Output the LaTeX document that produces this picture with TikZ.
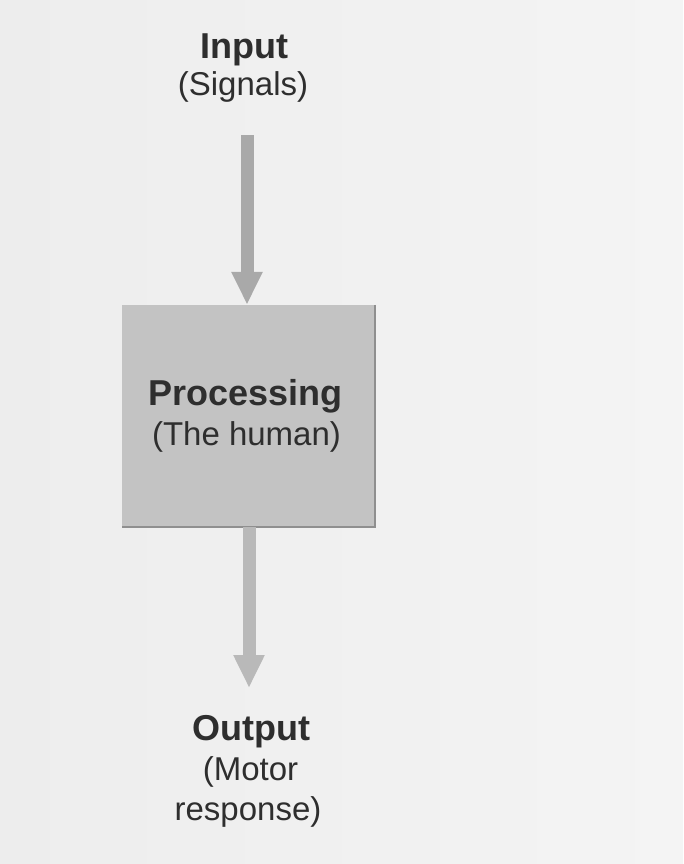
\documentclass[tikz,border=0pt]{standalone}
\usepackage{fontspec}
\setmainfont{Liberation Sans}
\usetikzlibrary{arrows.meta}
\definecolor{paper}{HTML}{EDEDED}
\definecolor{paperlight}{HTML}{F4F4F4}
\definecolor{ink}{HTML}{2E2E2E}
\definecolor{boxfill}{HTML}{C3C3C3}
\definecolor{boxedge}{HTML}{8F8F8F}
\definecolor{arrowfill}{HTML}{A9A9A9}
\definecolor{arrowfilllight}{HTML}{B9B9B9}
\tikzset{
  heading/.style={text=ink, inner sep=0pt, anchor=base,
    font=\bfseries\fontsize{36}{36}\selectfont},
  subline/.style={text=ink, inner sep=0pt, anchor=base,
    font=\fontsize{33}{33}\selectfont},
  stagebox/.style={rectangle, fill=boxfill, draw=none, inner sep=0pt,
    minimum width=253pt, minimum height=222pt},
  flow/.style={line width=13pt,
    -{Triangle[width=29pt, length=33pt]}},
}
\begin{document}
\begin{tikzpicture}[x=1pt, y=-1pt]
  % page
  \useasboundingbox (0,0) rectangle (683,864);
  \shade[left color=paper, right color=paperlight] (0,0) rectangle (683,864);

  % input label
  \node[heading] (inT) at (244,59) {Input};
  \node[subline] (inS) at (243,96) {(Signals)};
  \coordinate (inEnd) at (247,135);

  % processing stage
  \node[stagebox] (proc) at (248.5,416) {};
  \draw[boxedge, line width=2.5pt] (proc.north east) -- (proc.south east) -- (proc.south west);
  \node[heading] (procT) at (245.5,405) {Processing};
  \node[subline] (procS) at (246.5,445) {(The human)};

  % output label
  \node[heading] (outT) at (251,740) {Output};
  \node[subline] (outS1) at (250.5,780) {(Motor};
  \node[subline] (outS2) at (248,820) {response)};
  \coordinate (outEnd) at (249,688);

  % connectors
  \draw[flow, arrowfill] (inEnd) -- (inEnd |- proc.north);
  \draw[flow, arrowfilllight] (proc.south -| outEnd) -- (outEnd);
\end{tikzpicture}
\end{document}
